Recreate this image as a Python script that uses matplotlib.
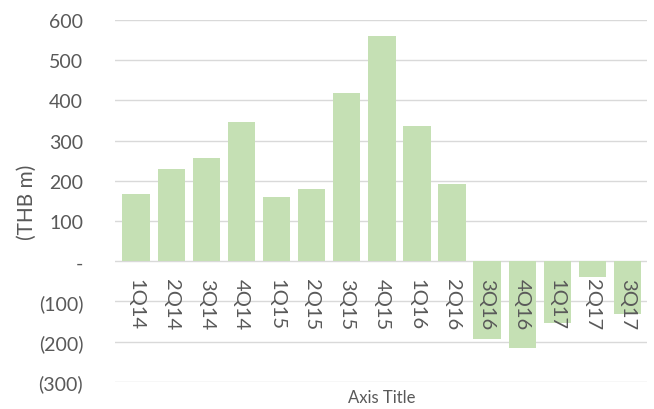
import matplotlib
matplotlib.use("Agg")
import matplotlib.pyplot as plt
from matplotlib.ticker import FuncFormatter

quarters = ["1Q14", "2Q14", "3Q14", "4Q14", "1Q15", "2Q15", "3Q15", "4Q15",
            "1Q16", "2Q16", "3Q16", "4Q16", "1Q17", "2Q17", "3Q17"]
values = [168, 230, 256, 347, 161, 180, 419, 560, 337, 192,
          -194, -216, -153, -38, -130]
yticks = [-300, -200, -100, 0, 100, 200, 300, 400, 500, 600]

plt.rcParams["font.family"] = ["Lato", "DejaVu Sans"]
TXT = "#595959"


def fmt(v, _):
    if v == 0:
        return "-"
    if v < 0:
        return f"({abs(v):.0f})"
    return f"{v:.0f}"


fig = plt.figure(figsize=(6.54, 4.10), dpi=100)
ax = fig.add_axes([0.176, 0.066, 0.813, 0.883])
ax.set_axisbelow(True)
x = range(len(quarters))
ax.bar(x, values, width=0.78, color="#c5e0b4", zorder=2)

ax.set_ylim(-300, 600)
ax.set_xlim(-0.6, len(quarters) - 0.45)
ax.set_yticks(yticks)
ax.yaxis.set_major_formatter(FuncFormatter(fmt))
ax.grid(axis="y", color="#d9d9d9", lw=1)

for s in ax.spines.values():
    s.set_visible(False)
ax.spines["bottom"].set_position(("data", 0))

ax.set_xticks(list(x))
ax.set_xticklabels(quarters, rotation=270)
ax.xaxis.set_zorder(5)
ax.tick_params(axis="x", length=0, pad=12, labelsize=14.5, labelcolor=TXT)
ax.tick_params(axis="y", length=0, pad=23, labelsize=14, labelcolor=TXT)
for lab in ax.get_yticklabels():
    lab.set_horizontalalignment("right")

ax.set_ylabel("(THB m)", fontsize=15, color=TXT, labelpad=1)
fig.text(0.583, 0.01, "Axis Title", ha="center", va="bottom",
         fontsize=12, color=TXT)

fig.savefig("out.png", dpi=100)
